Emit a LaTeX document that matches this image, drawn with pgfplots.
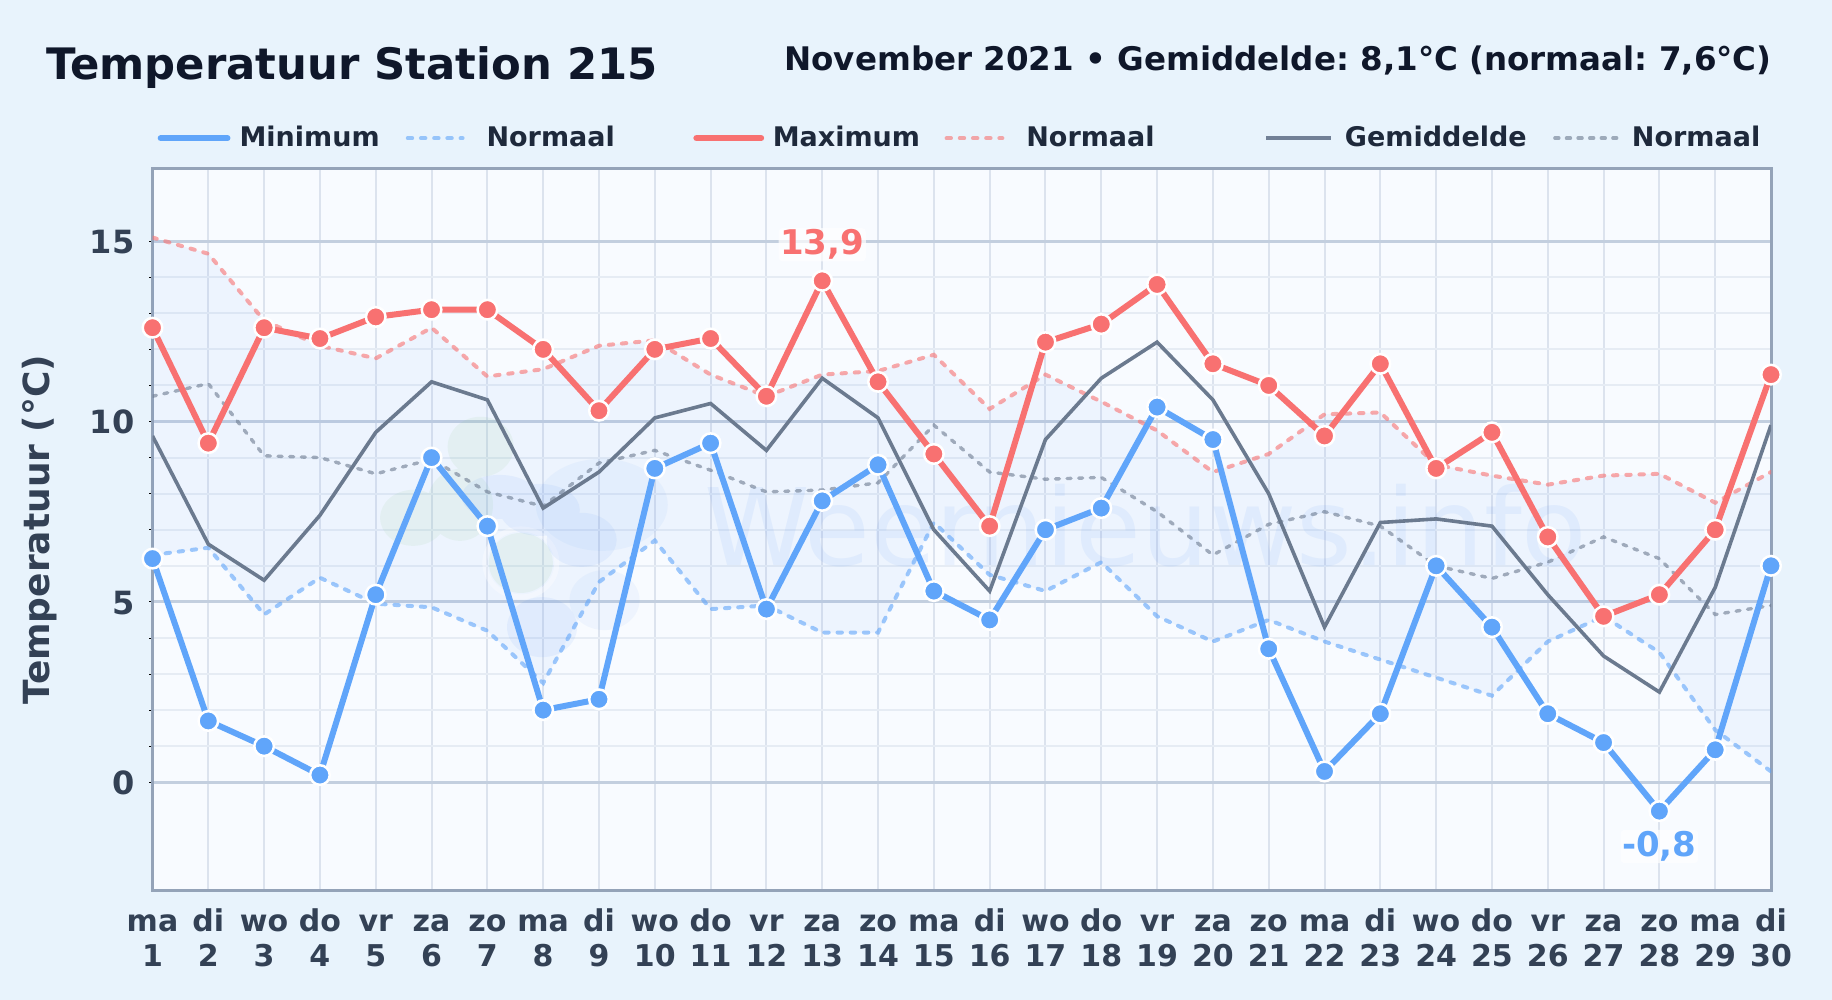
\documentclass[border=0pt]{standalone}
\usepackage{fontspec}
\setmainfont{DejaVu Sans}
\usepackage{pgfplots}
\usepackage{pgfplotstable}
\pgfplotsset{compat=1.18}
\usepgfplotslibrary{fillbetween}

\definecolor{pagebg}{HTML}{E8F3FC}
\definecolor{plotbg}{HTML}{F8FBFF}
\definecolor{majgrid}{HTML}{C3CFDF}
\definecolor{mingrid}{HTML}{E6ECF4}
\definecolor{vgrid}{HTML}{DCE3EE}
\definecolor{spine}{HTML}{94A3B8}
\definecolor{mincol}{HTML}{60A5FA}
\definecolor{maxcol}{HTML}{F87171}
\definecolor{avgcol}{HTML}{6B7A8F}
\definecolor{avgleg}{HTML}{718096}
\definecolor{ticktxt}{HTML}{334155}
\definecolor{legtxt}{HTML}{1E293B}
\definecolor{titletxt}{HTML}{0F172A}
\definecolor{band}{HTML}{3B82F6}
\definecolor{logogreen}{HTML}{8CCB8E}

\pgfplotstableread{
day tmin nmin tmax nmax tavg navg
1  6.2  6.3  12.6 15.1  9.6 10.7
2  1.7  6.5  9.4  14.65 6.6 11.05
3  1.0  4.65 12.6 12.8  5.6 9.05
4  0.2  5.67 12.3 12.1  7.4 9.0
5  5.2  4.95 12.9 11.75 9.7 8.55
6  9.0  4.85 13.1 12.6  11.1 8.95
7  7.1  4.2  13.1 11.25 10.6 8.05
8  2.0  2.75 12.0 11.45 7.6 7.65
9  2.3  5.55 10.3 12.1  8.6 8.85
10 8.7  6.7  12.0 12.25 10.1 9.2
11 9.4  4.8  12.3 11.3  10.5 8.65
12 4.8  4.9  10.7 10.7  9.2 8.05
13 7.8  4.15 13.9 11.3  11.2 8.1
14 8.8  4.15 11.1 11.4  10.1 8.3
15 5.3  7.2  9.1  11.85 7.0 9.9
16 4.5  5.75 7.1  10.35 5.3 8.6
17 7.0  5.3  12.2 11.3  9.5 8.4
18 7.6  6.1  12.7 10.55 11.2 8.45
19 10.4 4.6  13.8 9.75  12.2 7.5
20 9.5  3.9  11.6 8.6   10.6 6.3
21 3.7  4.5  11.0 9.1   8.0 7.15
22 0.3  3.9  9.6  10.2  4.3 7.5
23 1.9  3.4  11.6 10.25 7.2 7.1
24 6.0  2.9  8.7  8.8   7.3 6.0
25 4.3  2.4  9.7  8.5   7.1 5.65
26 1.9  3.9  6.8  8.25  5.2 6.1
27 1.1  4.6  4.6  8.5   3.5 6.8
28 -0.8 3.6  5.2  8.55  2.5 6.2
29 0.9  1.45 7.0  7.75  5.4 4.65
30 6.0  0.3  11.3 8.6   9.9 4.9
}\temps

\pgfplotsset{
  linecurve/.style={line width=3pt, mark=*, mark size=4.9pt,
    mark options={draw=white, line width=1.25pt, fill=#1}, color=#1},
  normcurve/.style={line width=2pt, line cap=round, #1, draw opacity=0.6,
    dash pattern=on 2.2pt off 4.4pt},
  legimg/.style n args={3}{legend image code/.code={
    \path[draw=none, fill=none] (0pt,-2pt) rectangle (#1,2pt);
    \draw[#2,#3] (0.8pt,0pt) -- ({#1-0.8pt},0pt);}},
}
\newcommand{\legtxt}[3]{\makebox[#1][l]{\hspace*{#2}#3}}
\newcommand{\dl}[2]{\vphantom{d}#1\\#2}

\begin{document}
\begin{tikzpicture}
\begin{axis}[
  set layers,
  at={(76.25pt,54.75pt)}, anchor=south west,
  scale only axis, width=809.25pt, height=360.75pt,
  xmin=1, xmax=30, ymin=-3, ymax=17,
  clip mode=individual,
  axis line style={spine, line width=1.5pt},
  xtick={1,...,30},
  xticklabels={{\dl{ma}{1}},{\dl{di}{2}},{\dl{wo}{3}},{\dl{do}{4}},{\dl{vr}{5}},{\dl{za}{6}},{\dl{zo}{7}},{\dl{ma}{8}},{\dl{di}{9}},{\dl{wo}{10}},{\dl{do}{11}},{\dl{vr}{12}},{\dl{za}{13}},{\dl{zo}{14}},{\dl{ma}{15}},{\dl{di}{16}},{\dl{wo}{17}},{\dl{do}{18}},{\dl{vr}{19}},{\dl{za}{20}},{\dl{zo}{21}},{\dl{ma}{22}},{\dl{di}{23}},{\dl{wo}{24}},{\dl{do}{25}},{\dl{vr}{26}},{\dl{za}{27}},{\dl{zo}{28}},{\dl{ma}{29}},{\dl{di}{30}}},
  x tick label style={align=center, inner sep=0pt, yshift=-7.3pt, text=ticktxt,
    font=\fontsize{15}{17.5}\selectfont\bfseries},
  x tick style={draw=none},
  ytick={0,5,10,15},
  minor y tick num=4,
  ytick pos=left,
  tick align=outside,
  major tick length=1.6pt, minor tick length=1.6pt,
  y tick style={black, line width=0.4pt},
  y tick label style={inner sep=0pt, xshift=-7.2pt, yshift=-0.4pt, text=ticktxt,
    font=\fontsize{16}{18}\selectfont\bfseries,
    /pgf/number format/assume math mode=true},
  xmajorgrids, ymajorgrids, yminorgrids,
  x grid style={vgrid, line width=1pt},
  y grid style={majgrid, line width=1.4pt},
  minor y grid style={mingrid, line width=1pt},
  extra y ticks={0},
  extra y tick labels={},
  extra y tick style={grid=major, major grid style={spine, line width=1.4pt}},
  ylabel={Temperatuur (°C)},
  ylabel style={at={(axis description cs:-0.0695,0.5)}, anchor=center, text=ticktxt,
    font=\fontsize{18}{20}\selectfont\bfseries},
  legend columns=6,
  legend style={at={(0.0032,1.0427)}, anchor=west, draw=none, fill=none,
    inner sep=0pt, outer sep=0pt, text=legtxt,
    nodes={inner sep=0pt, font=\fontsize{13.5}{15}\selectfont\bfseries},
    column sep=0pt},
]
% page and plot background go below the grid
\begin{pgfonlayer}{axis background}
  \fill[pagebg] ([shift={(-76.25pt,-54.75pt)}]rel axis cs:0,0) rectangle ++(916pt,500pt);
  \fill[plotbg] (rel axis cs:0,0) rectangle (rel axis cs:1,1);
\end{pgfonlayer}

% legend, same order as the reference
\addlegendimage{legimg={35pt}{mincol}{line width=3pt, line cap=round}}
\addlegendentry{\legtxt{87.65pt}{4.55pt}{Minimum}}
\addlegendimage{legimg={29pt}{mincol}{line width=2pt, line cap=round, draw opacity=0.6, dash pattern=on 2.2pt off 4.4pt}}
\addlegendentry{\legtxt{114.4pt}{11pt}{Normaal}}
\addlegendimage{legimg={34pt}{maxcol}{line width=3pt, line cap=round}}
\addlegendentry{\legtxt{90.2pt}{4.3pt}{Maximum}}
\addlegendimage{legimg={29.5pt}{maxcol}{line width=2pt, line cap=round, draw opacity=0.6, dash pattern=on 2.2pt off 4.4pt}}
\addlegendentry{\legtxt{130pt}{11pt}{Normaal}}
\addlegendimage{legimg={34pt}{avgleg}{line width=2pt}}
\addlegendentry{\legtxt{110pt}{5.9pt}{Gemiddelde}}
\addlegendimage{legimg={32.5pt}{avgcol}{line width=1.7pt, line cap=round, draw opacity=0.6, dash pattern=on 2pt off 3.8pt}}
\addlegendentry{\legtxt{76pt}{6.8pt}{Normaal}}

% watermark logo
\fill[logogreen, fill opacity=0.10]
  (axis cs:5.67,7.33) ellipse [x radius=16.5pt, y radius=14pt]
  (axis cs:6.88,9.30) ellipse [x radius=16.5pt, y radius=15pt]
  (axis cs:6.51,7.69) ellipse [x radius=16.5pt, y radius=18pt]
  (axis cs:7.60,6.08) ellipse [x radius=16pt, y radius=15pt];
\draw[white, draw opacity=0.35, line width=2.5pt] (axis cs:7.60,6.08) ellipse [x radius=18pt, y radius=17pt];
\fill[band, fill opacity=0.05]
  (axis cs:9.05,7.69) ellipse [x radius=33pt, y radius=23pt]
  (axis cs:9.10,5.05) ellipse [x radius=17.5pt, y radius=15pt];
\fill[band, fill opacity=0.07]
  (axis cs:7.22,7.91) ellipse [x radius=19pt, y radius=11pt]
  (axis cs:7.94,7.55) ellipse [x radius=20pt, y radius=13pt]
  (axis cs:8.69,6.72) ellipse [x radius=17.5pt, y radius=13.5pt]
  (axis cs:7.98,4.30) ellipse [x radius=17.5pt, y radius=15pt];
\node[text=band, text opacity=0.08, anchor=base, font=\fontsize{53.5}{60}\selectfont]
  at (axis cs:18.8,6.02) {Weernieuws.info};

% normal curves and the band between normal min and normal max
\addplot[forget plot, name path=nmin, normcurve=mincol] table[x=day,y=nmin] {\temps};
\addplot[forget plot, name path=nmax, normcurve=maxcol] table[x=day,y=nmax] {\temps};
\addplot[forget plot, fill=band, fill opacity=0.055] fill between[of=nmax and nmin];
\addplot[forget plot, normcurve=avgcol, line width=1.7pt, dash pattern=on 2pt off 3.8pt] table[x=day,y=navg] {\temps};

% measured
\addplot[forget plot, avgcol, line width=1.8pt] table[x=day,y=tavg] {\temps};
\addplot[forget plot, linecurve=maxcol] table[x=day,y=tmax] {\temps};
\addplot[forget plot, linecurve=mincol] table[x=day,y=tmin] {\temps};

% extremes
\node[text=maxcol, fill=white, fill opacity=0.7, text opacity=1, inner sep=0.8pt, rounded corners=2pt,
  font=\fontsize{17}{19}\selectfont\bfseries] at (axis cs:13,14.9) {13,9};
\node[text=mincol, fill=white, fill opacity=0.7, text opacity=1, inner sep=0.8pt, rounded corners=2pt,
  font=\fontsize{17}{19}\selectfont\bfseries] at (axis cs:28,-1.78) {-0,8};
\end{axis}

\node[anchor=base west, inner sep=0pt, text=titletxt, font=\fontsize{21.67}{24}\selectfont\bfseries]
  at (23pt,460pt) {Temperatuur Station 215};
\node[anchor=base east, inner sep=0pt, text=titletxt, font=\fontsize{16.25}{18}\selectfont\bfseries\frenchspacing]
  at (886pt,464.5pt) {November 2021 • Gemiddelde: 8,1°C (normaal: 7,6°C)};
\pgfresetboundingbox
\path[use as bounding box] (0pt,0pt) rectangle (916pt,500pt);
\end{tikzpicture}
\end{document}
